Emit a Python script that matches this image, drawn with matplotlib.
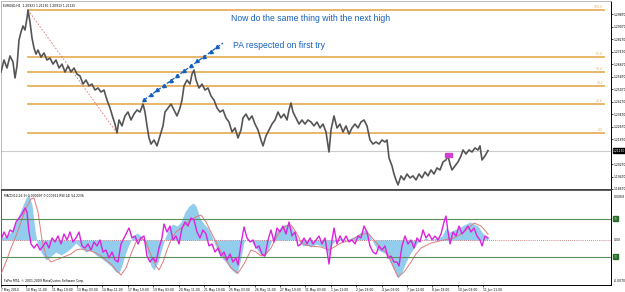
import numpy as np
import matplotlib.pyplot as plt

# ---- price data (EURUSD H1, bar slot vs close) ----
bar_x = [0, 3, 6, 9, 12, 14, 16, 18, 20, 22, 24, 26, 27, 29, 31, 33, 35, 37, 40, 43,
         46, 49, 52, 55, 58, 61, 64, 67, 70, 73, 76, 79, 82, 85, 88, 91, 94, 97, 100, 103,
         106, 109, 112, 114, 116, 118, 121, 124, 127, 130, 133, 136, 139, 142, 144, 146, 148, 150, 153, 156,
         159, 162, 164, 167, 170, 173, 176, 179, 181, 183, 186, 189, 191, 193, 195, 198, 201, 204, 207, 210,
         213, 216, 219, 222, 225, 228, 231, 234, 237, 240, 242, 245, 248, 251, 254, 257, 260, 262, 265, 268,
         271, 274, 277, 280, 283, 286, 288, 290, 292, 295, 298, 301, 304, 307, 310, 313, 316, 319, 322, 325,
         328, 330, 333, 336, 339, 342, 345, 348, 351, 354, 357, 360, 363, 366, 369, 372, 375, 378, 381, 384,
         386, 388, 391, 393, 395, 397, 400, 403, 406, 409, 412, 415, 418, 421, 424, 427, 430, 433, 436, 439,
         442, 445, 447, 449, 451, 454, 457, 460, 462, 465, 468, 471, 474, 477, 479, 481, 484, 487]
close = [1.2616, 1.2693, 1.2642, 1.2719, 1.2680, 1.2578, 1.2655, 1.2821, 1.2872, 1.2911, 1.2885, 1.2962, 1.3013, 1.2936, 1.2834, 1.2770, 1.2731, 1.2757, 1.2712, 1.2738,
         1.2693, 1.2706, 1.2667, 1.2693, 1.2642, 1.2667, 1.2616, 1.2655, 1.2616, 1.2642, 1.2603, 1.2591, 1.2539, 1.2565, 1.2527, 1.2539, 1.2501, 1.2514, 1.2488, 1.2501,
         1.2437, 1.2386, 1.2322, 1.2283, 1.2226, 1.2309, 1.2271, 1.2335, 1.2360, 1.2309, 1.2347, 1.2373, 1.2360, 1.2411, 1.2360, 1.2271, 1.2194, 1.2155, 1.2181, 1.2143,
         1.2207, 1.2271, 1.2360, 1.2386, 1.2411, 1.2373, 1.2335, 1.2386, 1.2437, 1.2527, 1.2565, 1.2539, 1.2603, 1.2629, 1.2565, 1.2514, 1.2539, 1.2501, 1.2514, 1.2463,
         1.2437, 1.2386, 1.2360, 1.2373, 1.2322, 1.2296, 1.2232, 1.2258, 1.2194, 1.2245, 1.2322, 1.2347, 1.2309, 1.2335, 1.2283, 1.2245, 1.2181, 1.2143, 1.2207, 1.2245,
         1.2283, 1.2309, 1.2360, 1.2322, 1.2347, 1.2309, 1.2373, 1.2418, 1.2360, 1.2322, 1.2283, 1.2309, 1.2283, 1.2309, 1.2296, 1.2271, 1.2296, 1.2258, 1.2283, 1.2232,
         1.2104, 1.2245, 1.2335, 1.2258, 1.2283, 1.2232, 1.2271, 1.2219, 1.2258, 1.2283, 1.2258, 1.2296, 1.2309, 1.2271, 1.2181, 1.2155, 1.2168, 1.2155, 1.2181, 1.2168,
         1.2181, 1.2066, 1.2015, 1.1963, 1.1925, 1.1893, 1.1951, 1.1925, 1.1963, 1.1938, 1.1951, 1.1925, 1.1963, 1.1938, 1.1976, 1.1951, 1.1989, 1.1963, 1.2002, 1.1989,
         1.2040, 1.2053, 1.2079, 1.2027, 1.1989, 1.2015, 1.2040, 1.2079, 1.2117, 1.2091, 1.2117, 1.2104, 1.2130, 1.2117, 1.2143, 1.2053, 1.2079, 1.2113]
current_price = 1.21130

# fibonacci retracement anchors
fib_high, fib_low = 1.3013, 1.2226
fib_high_x, fib_low_x = 27, 116
fib_ratios = [1.0, 0.618, 0.5, 0.382, 0.236, 0.0]
fib_names = ['100.0', '61.8', '50.0', '38.2', '23.6', '0.0']

price_ticks = [1.2987, 1.2907, 1.2827, 1.2747, 1.2667, 1.2587, 1.2507, 1.2427,
               1.2347, 1.2267, 1.2187, 1.2027, 1.1947, 1.1867]

# ---- MACD histogram / signal and RSI ----
macd_x = [0, 5, 10, 15, 20, 25, 28, 31, 34, 36, 40, 45, 50, 55, 60, 65, 70, 75, 80, 85,
          90, 95, 100, 105, 110, 115, 118, 121, 125, 129, 132, 136, 140, 143, 146, 150, 153, 157, 161, 164,
          168, 172, 176, 180, 184, 188, 192, 195, 199, 203, 207, 210, 213, 217, 221, 225, 229, 233, 236, 239,
          243, 247, 251, 255, 259, 263, 267, 271, 275, 279, 283, 287, 290, 294, 298, 302, 306, 310, 315, 320,
          325, 328, 331, 335, 340, 345, 350, 355, 360, 365, 369, 373, 377, 381, 385, 389, 393, 397, 401, 405,
          409, 413, 417, 421, 425, 429, 433, 437, 441, 445, 449, 453, 457, 461, 465, 469, 473, 477, 481, 484, 487]
macd = [0.00029, 0.00058, 0.00116, 0.00261, 0.00435, 0.00609, 0.00653, 0.00508, 0.00145, -0.00029,
        -0.00174, -0.0029, -0.00232, -0.00174, -0.00218, -0.00174, -0.00116, -0.00044, -0.00116, -0.00174,
        -0.00145, -0.00218, -0.00261, -0.00319, -0.00377, -0.00464, -0.00479, -0.00363, -0.00174, -0.00029,
        0.00058, 0.00102, 0.00058, 0.0, -0.00174, -0.00377, -0.00435, -0.00319, -0.00116, 0.00029,
        0.00174, 0.00232, 0.00203, 0.00261, 0.00406, 0.00493, 0.00537, 0.00493, 0.00319, 0.00232,
        0.00174, 0.00087, -0.00029, -0.00174, -0.00261, -0.00319, -0.00406, -0.00464, -0.00493, -0.00319,
        -0.00029, 0.00029, -0.00029, -0.00116, -0.00203, -0.00247, -0.00145, 0.0, 0.00116, 0.00174,
        0.00218, 0.00232, 0.00203, 0.00087, -0.00015, -0.00087, -0.00073, -0.00102, -0.00058, -0.00087,
        -0.00116, -0.00232, -0.00058, 0.0, 0.00029, 0.0, 0.00029, 0.00058, 0.00116, 0.0016,
        0.00058, -0.00058, -0.00145, -0.00174, -0.00203, -0.00319, -0.00435, -0.00551, -0.00464, -0.00319,
        -0.00203, -0.00116, -0.00029, 0.0, 0.00029, 0.0, 0.00015, 0.00029, 0.00058, 0.00174,
        0.00116, 0.00145, 0.00174, 0.00203, 0.00232, 0.00261, 0.00232, 0.00203, 0.00116, 0.00058, 0.00029]

signal_x = [0, 5, 10, 15, 20, 25, 30, 33, 37, 41, 45, 50, 55, 60, 65, 70, 75, 80, 85, 90,
            95, 100, 105, 110, 115, 120, 125, 130, 135, 140, 145, 150, 155, 158, 162, 166, 170, 175, 180, 185,
            190, 195, 200, 205, 210, 215, 220, 225, 230, 237, 243, 250, 255, 260, 265, 270, 275, 280, 285, 290,
            295, 300, 305, 310, 320, 328, 335, 340, 350, 357, 362, 367, 373, 380, 387, 392, 397, 403, 410, 415,
            420, 430, 443, 453, 463, 473, 480, 487]
signal = [-0.00493, -0.00319, -0.00116, 0.00058, 0.00261, 0.00464, 0.00595, 0.00609, 0.00406, 0.0,
          -0.00232, -0.00319, -0.0029, -0.00261, -0.00232, -0.00203, -0.00145, -0.00131, -0.00145, -0.0016,
          -0.00189, -0.00232, -0.0029, -0.00348, -0.00435, -0.00508, -0.00406, -0.00203, -0.00029, 0.00029,
          -0.00029, -0.00218, -0.00377, -0.00435, -0.00319, -0.00145, 0.0, 0.00116, 0.00174, 0.00232,
          0.0029, 0.00334, 0.00363, 0.00261, 0.00116, -0.00029, -0.00174, -0.0029, -0.00406, -0.00479,
          -0.00348, -0.00145, -0.00174, -0.00232, -0.00203, -0.00116, 0.00029, 0.00145, 0.00203, 0.00218,
          0.00116, -0.00029, -0.00073, -0.00087, -0.00102, -0.00145, -0.00087, -0.00044, 0.0, 0.00058,
          0.00087, 0.00102, 0.0, -0.00116, -0.00203, -0.00377, -0.00537, -0.00464, -0.00319, -0.00203,
          -0.00116, -0.00044, 0.0, 0.00029, 0.00116, 0.00247, 0.00203, 0.00087]

rsi_x = [0, 3, 6, 9, 12, 15, 18, 21, 24, 26, 28, 30, 33, 36, 39, 42, 45, 48, 51, 54,
         57, 60, 63, 66, 69, 72, 75, 78, 81, 84, 87, 90, 93, 96, 99, 102, 105, 108, 111, 114,
         117, 120, 123, 126, 128, 131, 134, 137, 140, 143, 146, 149, 152, 155, 158, 161, 163, 166, 169, 172,
         175, 178, 181, 184, 187, 190, 193, 196, 199, 202, 205, 208, 211, 214, 217, 220, 223, 226, 229, 232,
         235, 237, 240, 243, 246, 249, 252, 255, 258, 261, 264, 267, 270, 273, 276, 279, 282, 285, 288, 291,
         294, 297, 300, 303, 306, 309, 312, 315, 318, 321, 324, 328, 331, 333, 336, 339, 342, 345, 348, 351,
         354, 357, 360, 363, 366, 369, 372, 375, 378, 381, 384, 387, 390, 393, 396, 398, 401, 404, 407, 410,
         413, 416, 419, 422, 425, 428, 431, 434, 437, 440, 443, 445, 447, 449, 452, 455, 458, 461, 464, 467,
         470, 473, 476, 479, 481, 484, 487]
rsi = [47.4, 55.8, 49.5, 57.9, 55.8, 66.3, 70.5, 74.7, 81.1, 76.8, 55.8, 43.2, 38.9, 43.2, 36.8, 41.1, 45.3, 38.9, 49.5, 45.3,
       51.6, 43.2, 53.7, 47.4, 55.8, 45.3, 49.5, 55.8, 41.1, 38.9, 43.2, 36.8, 45.3, 41.1, 47.4, 34.7, 36.8, 28.4, 34.7, 26.3,
       24.2, 43.2, 49.5, 55.8, 60.0, 49.5, 51.6, 43.2, 49.5, 51.6, 30.5, 24.2, 28.4, 24.2, 38.9, 49.5, 64.2, 55.8, 62.1, 47.4,
       51.6, 43.2, 60.0, 66.3, 62.1, 70.5, 68.4, 55.8, 49.5, 57.9, 53.7, 41.1, 43.2, 34.7, 38.9, 30.5, 34.7, 26.3, 32.6, 24.2,
       28.4, 21.1, 43.2, 61.1, 49.5, 45.3, 47.4, 38.9, 41.1, 32.6, 30.5, 47.4, 57.9, 45.3, 60.0, 55.8, 62.1, 53.7, 66.3, 51.6,
       55.8, 41.1, 43.2, 49.5, 43.2, 49.5, 43.2, 47.4, 51.6, 43.2, 49.5, 22.1, 47.4, 60.0, 43.2, 51.6, 45.3, 51.6, 45.3, 47.4,
       43.2, 51.6, 49.5, 62.1, 55.8, 41.1, 34.7, 32.6, 41.1, 36.8, 41.1, 28.4, 30.5, 24.2, 24.2, 20.0, 41.1, 51.6, 43.2, 47.4,
       38.9, 49.5, 45.3, 57.9, 49.5, 53.7, 47.4, 51.6, 47.4, 53.7, 66.3, 72.6, 55.8, 43.2, 55.8, 51.6, 62.1, 53.7, 57.9, 62.1,
       55.8, 60.0, 51.6, 47.4, 41.1, 51.6, 49.5]

date_ticks = [0, 25, 51, 76, 101, 127, 152, 178, 203, 228, 254, 279, 304, 330, 355, 381, 406, 431, 457, 482]
date_labels = ['7 May 2010', '10 May 11:00', '11 May 19:00', '13 May 03:00', '14 May 11:00',
               '17 May 19:00', '19 May 03:00', '20 May 11:00', '21 May 19:00', '25 May 03:00',
               '26 May 11:00', '27 May 19:00', '31 May 03:00', '1 Jun 11:00', '2 Jun 19:00',
               '4 Jun 03:00', '7 Jun 11:00', '8 Jun 19:00', '10 Jun 03:00', '11 Jun 11:00']

# annotation anchors (bar slot, price)
pa_arrow_x = [143, 222]
pa_arrow_y = [1.2437, 1.2802]
marker_box = (444, 1.2072, 7, 0.0026)

FW, FH = 625, 292
TINY = 2.2
fig = plt.figure(figsize=(FW / 100, FH / 100), dpi=100)
fig.patch.set_facecolor('white')

ax = fig.add_axes([1 / FW, 1 - 189 / FH, 610 / FW, 188 / FH])
axm = fig.add_axes([1 / FW, 1 - 285 / FH, 610 / FW, 95 / FH])
axr = fig.add_axes([1 / FW, 1 - 285 / FH, 610 / FW, 95 / FH], frameon=False)
axr.patch.set_alpha(0)

blue = '#1560bd'
fib_col = '#e8b060'

# price panel
ax.set_xlim(0, 610)
ax.set_ylim(1.1867, 1.3071)
ax.axhline(current_price, color='#cccccc', lw=0.8, zorder=1)
for r, name in zip(fib_ratios, fib_names):
    lvl = fib_low + (fib_high - fib_low) * r
    ax.plot([fib_high_x, 603], [lvl, lvl], color=fib_col, lw=1.3, zorder=2)
    ax.text(602, lvl + 0.0006, name, fontsize=TINY, color=fib_col, ha='right', va='bottom')
ax.plot([fib_high_x, fib_low_x], [fib_high, fib_low], color='#e07070', lw=0.6, ls=(0, (2, 2)), zorder=2)
ax.plot(bar_x, close, color='#555555', lw=1.2, zorder=3)
ax.add_patch(plt.Rectangle(marker_box[:2], marker_box[2], marker_box[3], color='#d040d0', zorder=4))

ax.plot(pa_arrow_x, pa_arrow_y, color=blue, lw=0.9, ls=(0, (3, 1.5)), zorder=4)
ang = np.degrees(np.arctan2(57, 79))
for t in np.linspace(0.0, 0.93, 12):
    px = pa_arrow_x[0] + (pa_arrow_x[1] - pa_arrow_x[0]) * t
    py = pa_arrow_y[0] + (pa_arrow_y[1] - pa_arrow_y[0]) * t
    ax.plot(px, py, marker=(3, 0, ang + 90), ms=3, color=blue, zorder=5)

ax.text(230, 1.2960, 'Now do the same thing with the next high', fontsize=6.2, color=blue,
        family='Liberation Sans', va='center')
ax.text(232, 1.2785, 'PA respected on first try', fontsize=6.2, color=blue,
        family='Liberation Sans', va='center')
ax.text(2, 1.3040, 'EURUSD,H1  1.20921 1.21130 1.20913 1.21125', fontsize=TINY, color='black', va='center')

ax.yaxis.tick_right()
ax.set_yticks(price_ticks)
ax.set_yticklabels(['%.5f' % v for v in price_ticks])
ax.tick_params(axis='y', labelsize=TINY, length=1.5, width=0.5, pad=0.5)
ax.set_xticks([])
ax.text(612, current_price, '%.5f' % current_price, fontsize=TINY, color='white', va='center',
        bbox=dict(boxstyle='square,pad=0.1', fc='black', ec='black'))
for side in ['left', 'top']:
    ax.spines[side].set_color('#b0b0b0')
    ax.spines[side].set_linewidth(0.6)
ax.spines['right'].set_color('black')
ax.spines['right'].set_linewidth(0.7)
ax.spines['bottom'].set_color('#404040')
ax.spines['bottom'].set_linewidth(0.7)

# MACD panel
axm.set_xlim(0, 610)
axm.set_ylim(-0.006525, 0.00725)
axm.fill_between(macd_x, 0, macd, color='#92cdee', lw=0, zorder=2)
axm.axhline(0, color='#c06060', lw=0.6, ls=(0, (1, 1.5)), zorder=3)
axm.plot(signal_x, signal, color='#e07a7a', lw=0.7, zorder=4)
axm.set_yticks([])
axm.set_xticks(date_ticks)
axm.set_xticklabels(date_labels, ha='left')
axm.tick_params(axis='x', labelsize=TINY, length=1.5, width=0.5, pad=0.8)
for side in ['left', 'top']:
    axm.spines[side].set_color('#404040')
    axm.spines[side].set_linewidth(0.6)
axm.spines['right'].set_color('black')
axm.spines['bottom'].set_color('black')
axm.spines['right'].set_linewidth(0.7)
axm.spines['bottom'].set_linewidth(0.7)

# RSI overlay
axr.set_xlim(0, 610)
axr.set_ylim(0, 100)
axr.axhline(70, color='#5a8f5a', lw=0.8, zorder=1)
axr.axhline(30, color='#5a8f5a', lw=0.8, zorder=1)
axr.plot(rsi_x, rsi, color='#dd22dd', lw=1.0, zorder=5)
axr.set_xticks([])
axr.set_yticks([])
for lvl, txt in [(70, '70'), (30, '30')]:
    axr.text(613, lvl, txt, fontsize=TINY, color='#9ef09e', va='center',
             bbox=dict(boxstyle='square,pad=0.2', fc='#2e6b2e', ec='#2e6b2e'))
axr.text(613, 47.4, '0.00', fontsize=TINY, va='center')
axr.text(613, 93, '0.0069', fontsize=TINY, va='center')
axr.text(613, 4, '-0.0070', fontsize=TINY, va='center')
axr.text(3, 94, 'MACD(12,26,9) 0.000097 0.000561 RSI(14) 54.2236', fontsize=TINY, va='center')
axr.text(3, 4, 'FxPro MT4, \u00a9 2001-2009 MetaQuotes Software Corp.', fontsize=TINY, va='center')

fig.savefig('out.png', dpi=100, facecolor='white')
